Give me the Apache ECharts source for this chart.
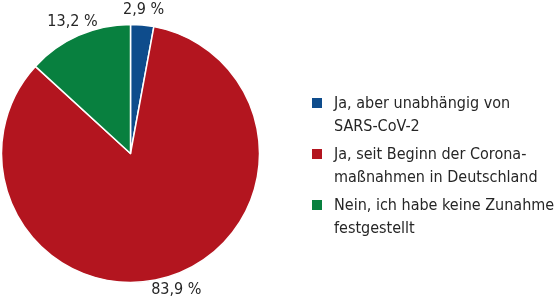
<!DOCTYPE html>
<html>
<head>
<meta charset="utf-8">
<script src="https://cdn.jsdelivr.net/npm/echarts@6/dist/echarts.min.js"></script>
<style>
  html, body { margin: 0; padding: 0; background: #fff; }
  #chart { width: 560px; height: 302px; }
</style>
</head>
<body>
<div id="chart"></div>
<script>
// Antworten (Reihenfolge im Uhrzeigersinn ab 12 Uhr)
const categories = [
    'Ja, aber unabhängig von\nSARS-CoV-2',
    'Ja, seit Beginn der Corona-\nmaßnahmen in Deutschland',
    'Nein, ich habe keine Zunahme\nfestgestellt'
]
const values = [2.9, 83.9, 13.2]
const colors = ['#0e4c8c', '#b3151f', '#08803f']

const font = '"Liberation Sans Narrow", "DejaVu Sans Condensed", "Noto Sans", sans-serif'
const textColor = '#262626'

const chart = echarts.init(document.getElementById('chart'))

chart.setOption({
    animation: false,
    legend: {
        orient: 'vertical',
        left: 307,
        top: 87,
        itemWidth: 17,
        itemHeight: 46,
        itemGap: 5,
        // square at the top of the item box so it lines up with the first text line
        icon: 'path://M0,0h0.01M0,6h10v10h-10zM16.99,46h0.01',
        itemStyle: { borderWidth: 0 },
        textStyle: {
            fontFamily: font,
            fontSize: 16,
            lineHeight: 23,
            color: textColor
        },
        data: categories
    },
    series: [{
        type: 'pie',
        center: [130.5, 153.5],
        radius: 129,
        startAngle: 90,
        clockwise: true,
        avoidLabelOverlap: false,
        itemStyle: {
            borderColor: '#fff',
            borderWidth: 1.5
        },
        label: {
            show: true,
            position: 'outside',
            distanceToLabelLine: 0,
            fontFamily: font,
            fontSize: 16,
            color: textColor,
            formatter: p => p.value.toFixed(1).replace('.', ',') + ' %'
        },
        labelLine: {
            show: false,
            length: 15,
            length2: 0
        },
        labelLayout: () => ({ align: 'center', verticalAlign: 'middle' }),
        data: categories.map((name, i) => ({
            name: name,
            value: values[i],
            itemStyle: { color: colors[i] }
        }))
    }]
})
</script>
</body>
</html>
